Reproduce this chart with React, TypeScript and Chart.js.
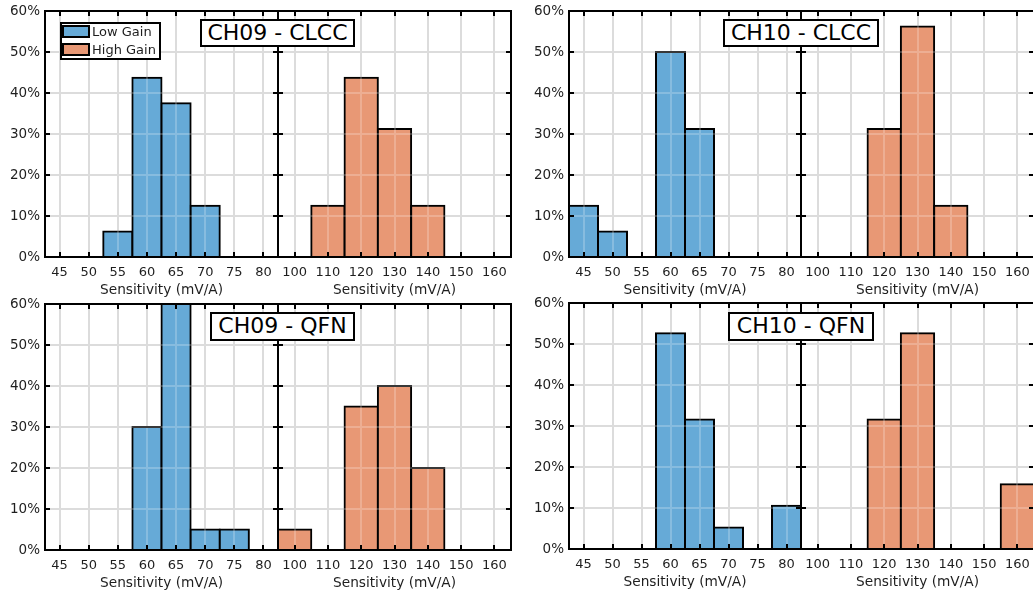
import React, { useEffect, useRef } from "react";
import { Chart, registerables } from "chart.js";

Chart.register(...registerables);

// Bin centres (mV/A) for the two gain ranges
const LOW_BINS = [45, 50, 55, 60, 65, 70, 75, 80];
const HIGH_BINS = [100, 110, 120, 130, 140, 150, 160];
const PERCENT_TICKS = [0, 10, 20, 30, 40, 50, 60];

// Share of parts per bin (%)
const CH09_CLCC_LOW = [0, 0, 6.25, 43.75, 37.5, 12.5, 0, 0];
const CH09_CLCC_HIGH = [0, 12.5, 43.75, 31.25, 12.5, 0, 0];
const CH10_CLCC_LOW = [12.5, 6.25, 0, 50, 31.25, 0, 0, 0];
const CH10_CLCC_HIGH = [0, 0, 31.25, 56.25, 12.5, 0, 0];
const CH09_QFN_LOW = [0, 0, 0, 30, 60, 5, 5, 0];
const CH09_QFN_HIGH = [5, 0, 35, 40, 20, 0, 0];
const CH10_QFN_LOW = [0, 0, 0, 52.63, 31.58, 5.26, 0, 10.53];
const CH10_QFN_HIGH = [0, 0, 31.58, 52.63, 0, 0, 15.79];

const LOW_RANGE = [42.5, 82.5];
const HIGH_RANGE = [95, 165];

const X_TITLE = "Sensitivity (mV/A)";
const LEGEND_LABELS = ["Low Gain", "High Gain"];

// Styling
const FONT = "DejaVu Sans";
const TEXT = "#1e1e1e";
const BLUE = "#66aad7";
const ORANGE = "#e89875";
const GRID = "#d3d3d3";
const GRID_OVER_BARS = "rgba(255,255,255,0.22)";

// Layout (page px)
const Y_AXIS_W = 45;
const TOP_PAD = 11;
const X_AXIS_H = 43;
const SIDE_PAD = 20;
const TICK_LEN = 4;

type Frame = { left: number; split: number; right: number; top: number; bottom: number };
type Box = { left: number; top: number; width: number; height: number };

const PANELS: {
  title: string;
  low: number[];
  high: number[];
  frame: Frame;
  titleBox: Box;
  legend: boolean;
}[] = [
  {
    title: "CH09 - CLCC",
    low: CH09_CLCC_LOW,
    high: CH09_CLCC_HIGH,
    frame: { left: 45, split: 278, right: 511, top: 11, bottom: 257 },
    titleBox: { left: 200, top: 19, width: 155, height: 28 },
    legend: true,
  },
  {
    title: "CH10 - CLCC",
    low: CH10_CLCC_LOW,
    high: CH10_CLCC_HIGH,
    frame: { left: 569, split: 801, right: 1034, top: 11, bottom: 257 },
    titleBox: { left: 723, top: 19, width: 156, height: 28 },
    legend: false,
  },
  {
    title: "CH09 - QFN",
    low: CH09_QFN_LOW,
    high: CH09_QFN_HIGH,
    frame: { left: 45, split: 278, right: 511, top: 304, bottom: 550 },
    titleBox: { left: 210, top: 312, width: 145, height: 29 },
    legend: false,
  },
  {
    title: "CH10 - QFN",
    low: CH10_QFN_LOW,
    high: CH10_QFN_HIGH,
    frame: { left: 569, split: 801, right: 1034, top: 303, bottom: 549 },
    titleBox: { left: 728, top: 312, width: 146, height: 29 },
    legend: false,
  },
];

const align2 = (p: number) => Math.round(p - 1) + 1;

// Box, inward tick marks and the light grid seen through the bars
const framePlugin = {
  id: "frameAndTicks",
  afterDatasetsDraw(chart: any) {
    const { ctx, chartArea: a, scales } = chart;
    ctx.save();
    ctx.beginPath();
    ctx.rect(a.left, a.top, a.right - a.left, a.bottom - a.top);
    ctx.clip();
    ctx.strokeStyle = GRID_OVER_BARS;
    ctx.lineWidth = 2;
    ctx.beginPath();
    scales.x.ticks.forEach((t: any) => {
      const px = align2(scales.x.getPixelForValue(t.value));
      ctx.moveTo(px, a.top);
      ctx.lineTo(px, a.bottom);
    });
    scales.y.ticks.forEach((t: any) => {
      const py = align2(scales.y.getPixelForValue(t.value));
      ctx.moveTo(a.left, py);
      ctx.lineTo(a.right, py);
    });
    ctx.stroke();
    ctx.restore();
  },
  afterDraw(chart: any) {
    const { ctx, chartArea: a, scales } = chart;
    ctx.save();
    ctx.strokeStyle = "#000";
    ctx.lineWidth = 2;
    ctx.beginPath();
    scales.x.ticks.forEach((t: any) => {
      const px = align2(scales.x.getPixelForValue(t.value));
      ctx.moveTo(px, a.bottom);
      ctx.lineTo(px, a.bottom - TICK_LEN - 1);
      ctx.moveTo(px, a.top);
      ctx.lineTo(px, a.top + TICK_LEN + 1);
    });
    scales.y.ticks.forEach((t: any) => {
      const py = align2(scales.y.getPixelForValue(t.value));
      ctx.moveTo(a.left, py);
      ctx.lineTo(a.left + TICK_LEN + 1, py);
      ctx.moveTo(a.right, py);
      ctx.lineTo(a.right - TICK_LEN - 1, py);
    });
    ctx.stroke();
    ctx.strokeRect(a.left, a.top, a.right - a.left, a.bottom - a.top);
    ctx.restore();
  },
};

type HalfProps = {
  bins: number[];
  values: number[];
  color: string;
  range: number[];
  frame: Frame;
  side: "low" | "high";
};

function HalfChart({ bins, values, color, range, frame, side }: HalfProps) {
  const ref = useRef<HTMLCanvasElement>(null);
  const isLow = side === "low";
  const plotW = isLow ? frame.split - frame.left : frame.right - frame.split;
  const left = isLow ? frame.left - Y_AXIS_W : frame.split - SIDE_PAD;
  const width = isLow ? Y_AXIS_W + plotW + SIDE_PAD : SIDE_PAD * 2 + plotW;
  const top = frame.top - TOP_PAD;
  const height = TOP_PAD + (frame.bottom - frame.top) + X_AXIS_H;

  useEffect(() => {
    if (!ref.current) return;
    const chart = new Chart(ref.current, {
      type: "bar",
      data: {
        datasets: [
          {
            data: bins.map((b, i) => ({ x: b, y: values[i] })),
            backgroundColor: color,
            borderColor: "#000",
            borderWidth: 2,
            inflateAmount: 1,
            barPercentage: 1,
            categoryPercentage: 1,
          } as any,
        ],
      },
      options: {
        animation: false,
        responsive: false,
        events: [],
        layout: {
          padding: { top: TOP_PAD, left: isLow ? 0 : SIDE_PAD, right: SIDE_PAD, bottom: 0 },
        },
        plugins: { legend: { display: false }, tooltip: { enabled: false } },
        scales: {
          x: {
            type: "linear",
            min: range[0],
            max: range[1],
            offset: false,
            afterBuildTicks: (s: any) => {
              s.ticks = bins.map((v) => ({ value: v }));
            },
            afterFit: (s: any) => {
              s.height = X_AXIS_H;
              s.paddingLeft = 0;
              s.paddingRight = 0;
            },
            grid: { color: GRID, lineWidth: 2, drawTicks: false, offset: false },
            border: { display: false },
            ticks: {
              color: TEXT,
              font: { family: FONT, size: 13 },
              padding: 8,
              maxRotation: 0,
              autoSkip: false,
            },
            title: {
              display: true,
              text: X_TITLE,
              color: TEXT,
              font: { family: FONT, size: 13.7 },
              padding: { top: 0, bottom: 1 },
            },
          },
          y: {
            min: 0,
            max: 60,
            afterBuildTicks: (s: any) => {
              s.ticks = PERCENT_TICKS.map((v) => ({ value: v }));
            },
            afterFit: (s: any) => {
              s.width = isLow ? Y_AXIS_W : 0;
              s.paddingTop = 0;
              s.paddingBottom = 0;
            },
            grid: { color: GRID, lineWidth: 2, drawTicks: false },
            border: { display: false },
            ticks: {
              display: isLow,
              color: TEXT,
              font: { family: FONT, size: 13.5 },
              padding: 5,
              callback: (v: any) => `${v}%`,
            },
          },
        },
      } as any,
      plugins: [framePlugin as any],
    });
    return () => chart.destroy();
  }, []);

  return (
    <canvas
      ref={ref}
      width={width}
      height={height}
      style={{ position: "absolute", left, top, width, height }}
    />
  );
}

function Swatch({ color, top }: { color: string; top: number }) {
  return (
    <div
      style={{
        position: "absolute",
        left: 0,
        top,
        width: 28,
        height: 13,
        boxSizing: "border-box",
        border: "2px solid #000",
        background: color,
      }}
    />
  );
}

function Legend() {
  const label = (text: string, top: number) => (
    <div
      style={{
        position: "absolute",
        left: 30,
        top,
        height: 13,
        lineHeight: "13px",
        fontFamily: FONT,
        fontSize: 13,
        color: TEXT,
        whiteSpace: "nowrap",
      }}
    >
      {text}
    </div>
  );
  return (
    <div
      style={{
        position: "absolute",
        left: 60,
        top: 22,
        width: 101,
        height: 38,
        boxSizing: "border-box",
        border: "2px solid #000",
        background: "#fff",
      }}
    >
      <Swatch color={BLUE} top={1} />
      {label(LEGEND_LABELS[0], 1)}
      <Swatch color={ORANGE} top={19} />
      {label(LEGEND_LABELS[1], 19)}
    </div>
  );
}

function TitleBox({ text, box }: { text: string; box: Box }) {
  return (
    <div
      style={{
        position: "absolute",
        left: box.left,
        top: box.top,
        width: box.width,
        height: box.height,
        boxSizing: "border-box",
        border: "2px solid #000",
        background: "#fff",
        display: "flex",
        alignItems: "center",
        justifyContent: "center",
        paddingBottom: 2,
        fontFamily: FONT,
        fontSize: 22,
        color: "#000",
        whiteSpace: "nowrap",
      }}
    >
      {text}
    </div>
  );
}

export default function App() {
  return (
    <div
      style={{
        position: "fixed",
        left: 0,
        top: 0,
        width: 1033,
        height: 594,
        overflow: "hidden",
        background: "#fff",
      }}
    >
      {PANELS.map((p) => (
        <React.Fragment key={p.title}>
          <HalfChart bins={LOW_BINS} values={p.low} color={BLUE} range={LOW_RANGE} frame={p.frame} side="low" />
          <HalfChart bins={HIGH_BINS} values={p.high} color={ORANGE} range={HIGH_RANGE} frame={p.frame} side="high" />
          <TitleBox text={p.title} box={p.titleBox} />
          {p.legend && <Legend />}
        </React.Fragment>
      ))}
    </div>
  );
}
